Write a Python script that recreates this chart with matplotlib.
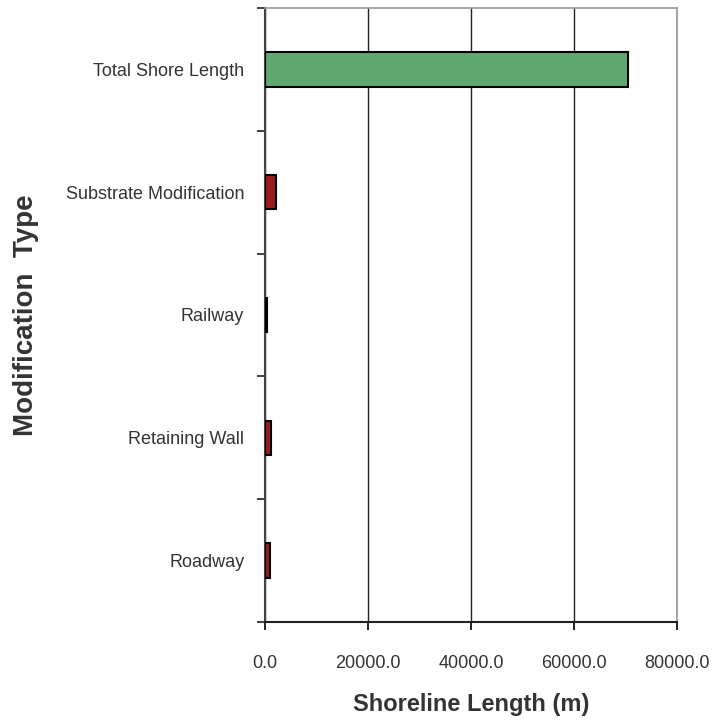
import matplotlib.pyplot as plt

categories = ['Roadway', 'Retaining Wall', 'Railway',
              'Substrate Modification', 'Total Shore Length']
lengths = [950, 1200, 350, 2100, 70400]
colors = ['#9b1c1c', '#9b1c1c', '#9b1c1c', '#9b1c1c', '#5fa86f']
x_ticks = [0, 20000, 40000, 60000, 80000]

tick_font = 'Liberation Sans'

fig = plt.figure(figsize=(7.13, 7.21), dpi=100)
ax = fig.add_axes([0.3717, 0.1373, 0.578, 0.8517])

pos = range(len(categories))
ax.barh(pos, lengths, height=0.28, color=colors, edgecolor='black', linewidth=1.5, zorder=3)

ax.set_xlim(0, 80000)
ax.set_ylim(-0.5, len(categories) - 0.5)

ax.set_xticks(x_ticks)
ax.set_xticklabels([f'{t:.1f}' for t in x_ticks], fontname=tick_font, fontsize=13, color='#333333')
ax.set_yticks(pos)
ax.set_yticklabels(categories, fontname=tick_font, fontsize=13, color='#333333')
ax.tick_params(axis='y', length=0, pad=15)
ax.tick_params(axis='x', length=6, width=1.2, pad=18, direction='out')

# boundary ticks on the y axis
ax.set_yticks([i - 0.5 for i in range(len(categories) + 1)], minor=True)
ax.tick_params(axis='y', which='minor', length=6, width=1.2, color='#222222')

ax.grid(axis='x', color='#222222', linewidth=1.0, zorder=0)
ax.spines['left'].set_color('#444444')
ax.spines['left'].set_linewidth(1.5)
ax.spines['bottom'].set_color('#222222')
ax.spines['bottom'].set_linewidth(1.5)
ax.spines['top'].set_color('#999999')
ax.spines['right'].set_color('#999999')
ax.spines['top'].set_linewidth(1.2)
ax.spines['right'].set_linewidth(1.2)

ax.set_xlabel('Shoreline Length (m)', fontname='Liberation Sans', fontsize=17,
              fontweight='bold', color='#333333', labelpad=15)
fig.text(0.037, 0.5626, 'Modification  Type', rotation=90, ha='center', va='center',
         fontname='Liberation Sans', fontsize=20, fontweight='bold', color='#333333')

fig.savefig('out.png', dpi=100)
